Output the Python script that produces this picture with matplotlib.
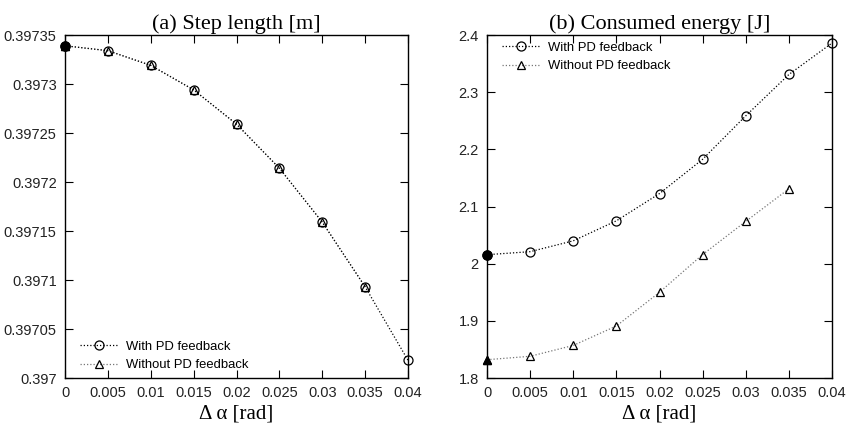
import matplotlib
matplotlib.use('Agg')
import matplotlib.pyplot as plt

# Delta alpha sweep [rad]
d_alpha = [0.0, 0.005, 0.01, 0.015, 0.02, 0.025, 0.03, 0.035, 0.04]

# (a) step length [m]
step_with = [0.397339, 0.397334, 0.397319, 0.397294, 0.397259,
             0.397214, 0.397159, 0.397093, 0.397018]
step_without = [0.397339, 0.397334, 0.397319, 0.397294, 0.397259,
                0.397214, 0.397159, 0.397093]

# (b) consumed energy [J]
energy_with = [2.0157, 2.021, 2.040, 2.075, 2.1227, 2.1827, 2.2587, 2.331, 2.386]
energy_without = [1.832, 1.838, 1.857, 1.891, 1.950, 2.016, 2.074, 2.131]

x_ticks = [0, 0.005, 0.01, 0.015, 0.02, 0.025, 0.03, 0.035, 0.04]
x_ticklabels = ['0', '0.005', '0.01', '0.015', '0.02', '0.025', '0.03', '0.035', '0.04']
step_ticks = [0.397, 0.39705, 0.3971, 0.39715, 0.3972, 0.39725, 0.3973, 0.39735]
step_ticklabels = ['0.397', '0.39705', '0.3971', '0.39715', '0.3972', '0.39725', '0.3973', '0.39735']
energy_ticks = [1.8, 1.9, 2.0, 2.1, 2.2, 2.3, 2.4]
energy_ticklabels = ['1.8', '1.9', '2', '2.1', '2.2', '2.3', '2.4']

SANS = 'Liberation Sans'
SERIF = 'Liberation Serif'
DOT = (0, (1, 1.6))

fig = plt.figure(figsize=(8.48, 4.28), dpi=100)
ax_a = fig.add_axes([0.0767, 0.1168, 0.4045, 0.8014])
ax_b = fig.add_axes([0.5743, 0.1168, 0.4069, 0.8014])


def draw_series(ax, x, y, marker, size, color, label, z):
    ax.plot(x, y, linestyle=DOT, color=color, lw=0.9, marker=marker,
            markersize=size, markerfacecolor='none', markeredgecolor='black',
            markeredgewidth=0.9, label=label, clip_on=False, zorder=z)
    # starting point drawn filled
    ax.plot(x[:1], y[:1], linestyle='none', marker=marker, markersize=size,
            color='black', clip_on=False, zorder=z + 0.5)


for ax, yw, ywo, yt, ytl, ylim, title, loc, anchor in [
        (ax_a, step_with, step_without, step_ticks, step_ticklabels,
         (0.397, 0.39735), '(a) Step length [m]', 'lower left', (0.024, 0.0)),
        (ax_b, energy_with, energy_without, energy_ticks, energy_ticklabels,
         (1.8, 2.4), '(b) Consumed energy [J]', 'upper left', (0.024, 1.0))]:
    draw_series(ax, d_alpha[:len(ywo)], ywo, '^', 5.5, '#777777', 'Without PD feedback', 3)
    draw_series(ax, d_alpha, yw, 'o', 6.5, 'black', 'With PD feedback', 4)

    ax.set_xlim(0, 0.04)
    ax.set_ylim(*ylim)
    ax.set_xticks(x_ticks)
    ax.set_xticklabels(x_ticklabels, fontfamily=SANS, fontsize=10.5, color='#222222')
    ax.set_yticks(yt)
    ax.set_yticklabels(ytl, fontfamily=SANS, fontsize=10.5, color='#222222')
    ax.tick_params(direction='in', top=True, right=True, length=6, width=0.8, pad=6)
    for s in ax.spines.values():
        s.set_linewidth(1.0)
    ax.set_title(title, fontfamily=SERIF, fontsize=16, pad=4)
    ax.set_xlabel('\u0394 \u03b1 [rad]', fontfamily=SERIF, fontsize=15, labelpad=3)

    handles, labels = ax.get_legend_handles_labels()
    ax.legend(handles[::-1], labels[::-1], loc=loc, bbox_to_anchor=anchor,
              frameon=False, prop={'family': SANS, 'size': 9.4}, handlelength=2.9,
              handletextpad=0.65, labelspacing=0.5, borderaxespad=0.1)

fig.savefig('out.png', dpi=100)
